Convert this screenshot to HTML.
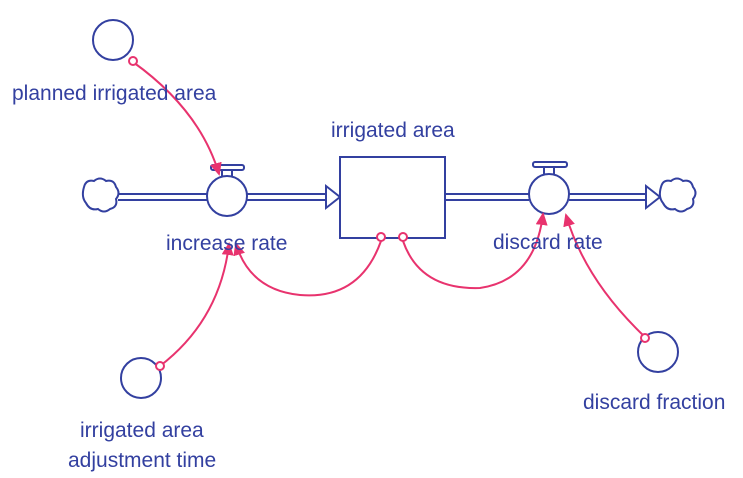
<!DOCTYPE html>
<html><head><style>body{margin:0;background:#fff}svg{display:block}text{font-family:"Liberation Sans",sans-serif;font-size:21px;fill:#3340a0}</style></head><body>
<svg width="743" height="478" viewBox="0 0 743 478">
<defs><marker id="a" markerWidth="14" markerHeight="14" refX="11" refY="6" orient="auto" markerUnits="userSpaceOnUse"><path d="M0,0 L13,6 L0,12 Z" fill="#e8336e"/></marker></defs>
<g stroke="#3340a0" stroke-width="2" fill="none">
<path d="M118,194 H207 M118,200 H207 M247,194 H326 M247,200 H326"/>
<path d="M326,186 L340,197 L326,208 Z" fill="#fff"/>
<rect x="340" y="157" width="105" height="81" fill="#fff"/>
<path d="M445,194 H529 M445,200 H529 M569,194 H646 M569,200 H646"/>
<path d="M646,186 L660,197 L646,208 Z" fill="#fff"/>
<circle cx="227" cy="196" r="20" fill="#fff"/>
<rect x="211" y="165" width="33" height="5" rx="2" fill="#fff"/>
<path d="M222,170 V176 M232,170 V176"/>
<circle cx="549" cy="194" r="20" fill="#fff"/>
<rect x="533" y="162" width="34" height="5" rx="2" fill="#fff"/>
<path d="M544,167 V174 M554,167 V174"/>
<path d="M84,187 q2,-8 10,-6 q6,-5 12,0 q8,-2 10,6 q5,6 0,12 q2,8 -6,10 q-6,5 -12,0 q-8,2 -12,-6 q-5,-6 -2,-16 Z" fill="#fff"/>
<path d="M661,187 q2,-8 10,-6 q6,-5 12,0 q8,-2 10,6 q5,6 0,12 q2,8 -6,10 q-6,5 -12,0 q-8,2 -12,-6 q-5,-6 -2,-16 Z" fill="#fff"/>
<circle cx="113" cy="40" r="20" fill="#fff"/>
<circle cx="141" cy="378" r="20" fill="#fff"/>
<circle cx="658" cy="352" r="20" fill="#fff"/>
</g>
<g stroke="#e8336e" stroke-width="2" fill="none">
<path d="M133,62 Q200,110 219,174" marker-end="url(#a)"/>
<path d="M160,366 Q220,320 229,244" marker-end="url(#a)"/>
<path d="M381,241 Q360,300 300,295 Q250,290 236,244" marker-end="url(#a)"/>
<path d="M403,241 Q420,290 480,288 Q535,280 543,214" marker-end="url(#a)"/>
<path d="M645,337 Q585,280 566,215" marker-end="url(#a)"/>
<g fill="#fff"><circle cx="133" cy="61" r="4"/><circle cx="160" cy="366" r="4"/><circle cx="381" cy="237" r="4"/><circle cx="403" cy="237" r="4"/><circle cx="645" cy="338" r="4"/></g>
</g>
<text x="12" y="100">planned irrigated area</text>
<text x="331" y="137">irrigated area</text>
<text x="166" y="250">increase rate</text>
<text x="493" y="249">discard rate</text>
<text x="80" y="437">irrigated area</text>
<text x="68" y="467">adjustment time</text>
<text x="583" y="409">discard fraction</text>
</svg></body></html>
